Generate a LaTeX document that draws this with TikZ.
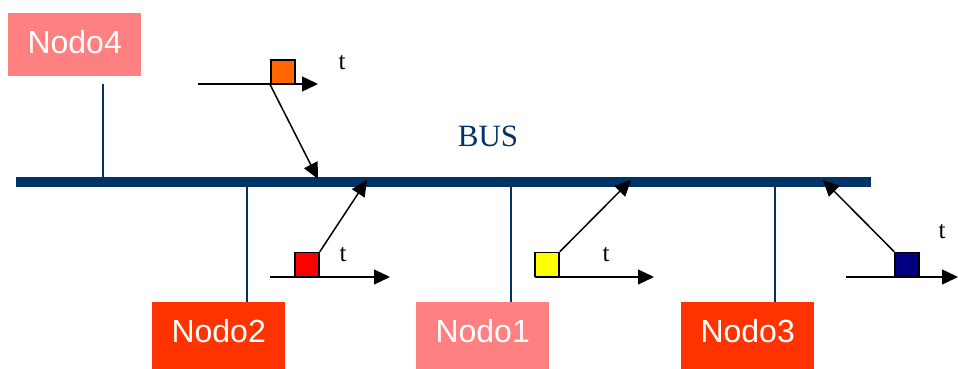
\documentclass[tikz,border=0pt]{standalone}
\usepackage{fontspec}
\setmainfont{Liberation Serif}
\newfontfamily\arialf{Liberation Sans}
\usetikzlibrary{arrows.meta}
\definecolor{buscol}{HTML}{003366}
\definecolor{pinkbox}{HTML}{FF8080}
\definecolor{redbox}{HTML}{FF3300}
\definecolor{sqorange}{HTML}{FF6600}
\definecolor{sqred}{HTML}{FF0000}
\definecolor{sqyellow}{HTML}{FFFF00}
\definecolor{sqnavy}{HTML}{000080}
\tikzset{
  nodebox/.style={anchor=north west, inner sep=0pt, minimum width=133pt, text height=40pt,
    text=white, font=\arialf\fontsize{32}{32}\selectfont, align=center},
  drop/.style={draw=buscol, line width=2pt},
  packet/.style={draw=black, line width=1.6pt, minimum size=24pt, inner sep=0pt},
  tline/.style={draw=black, line width=1.4pt, -{Triangle[length=16pt,width=15pt]}},
  sendarrow/.style={draw=black, line width=1.5pt, -{Triangle[length=16pt,width=15pt]}},
  tlabel/.style={font=\fontsize{25}{25}\selectfont, inner sep=0pt},
}
\begin{document}
\begin{tikzpicture}[x=1pt,y=-1pt]
\useasboundingbox (0,0) rectangle (958,369);
% nodes
\node[nodebox, fill=pinkbox, text depth=23pt] (n4) at (8,13) {Nodo4};
\node[nodebox, fill=redbox, text depth=27pt] (n2) at (152,302) {Nodo2};
\node[nodebox, fill=pinkbox, text depth=27pt] (n1) at (416,302) {Nodo1};
\node[nodebox, fill=redbox, text depth=27pt] (n3) at (681,302) {Nodo3};
% bus
\node[fill=buscol, inner sep=0pt, minimum width=855pt, minimum height=10pt, anchor=west] (bus) at (16,182) {};
\node[text=buscol, font=\fontsize{31}{31}\selectfont, inner sep=0pt] (buslabel) at (488,136) {BUS};
% drop lines
\coordinate (d4) at (103,84);
\draw[drop] (d4) -- (d4 |- bus.center);
\draw[drop] (n2.north -| 247,0) -- (247,0 |- bus.center);
\draw[drop] (n1.north -| 511,0) -- (511,0 |- bus.center);
\draw[drop] (n3.north -| 775,0) -- (775,0 |- bus.center);
% timelines
\coordinate (t4a) at (198,84); \coordinate (t4b) at (318,84);
\coordinate (t2a) at (270,277); \coordinate (t2b) at (390,277);
\coordinate (t1a) at (535,277); \coordinate (t1b) at (654,277);
\coordinate (t3a) at (846,277); \coordinate (t3b) at (958,277);
\draw[tline] (t4a) -- (t4b);
\draw[tline, line width=1.1pt] (t2a) -- (t2b);
\draw[tline, line width=1.1pt] (t1a) -- (t1b);
\draw[tline] (t3a) -- (t3b);
% packets
\node[packet, fill=sqorange] (p4) at (283,72) {};
\node[packet, fill=sqred] (p2) at (307,264.5) {};
\node[packet, fill=sqyellow] (p1) at (547,264.5) {};
\node[packet, fill=sqnavy] (p3) at (907,264.5) {};
% bus targets
\coordinate (b4) at (318,179);
\coordinate (b2) at (367,180);
\coordinate (b1) at (631,180);
\coordinate (b3) at (823,180);
\draw[sendarrow] (p4.south west) -- (b4);
\draw[sendarrow] (p2.north east) -- (b2);
\draw[sendarrow] (p1.north east) -- (b1);
\draw[sendarrow] (p3.north west) -- (b3);
% t labels
\node[tlabel] (l4) at (342,63) {t};
\node[tlabel] (l2) at (343,255) {t};
\node[tlabel] (l1) at (606,255) {t};
\node[tlabel] (l3) at (942,232) {t};
\end{tikzpicture}
\end{document}
